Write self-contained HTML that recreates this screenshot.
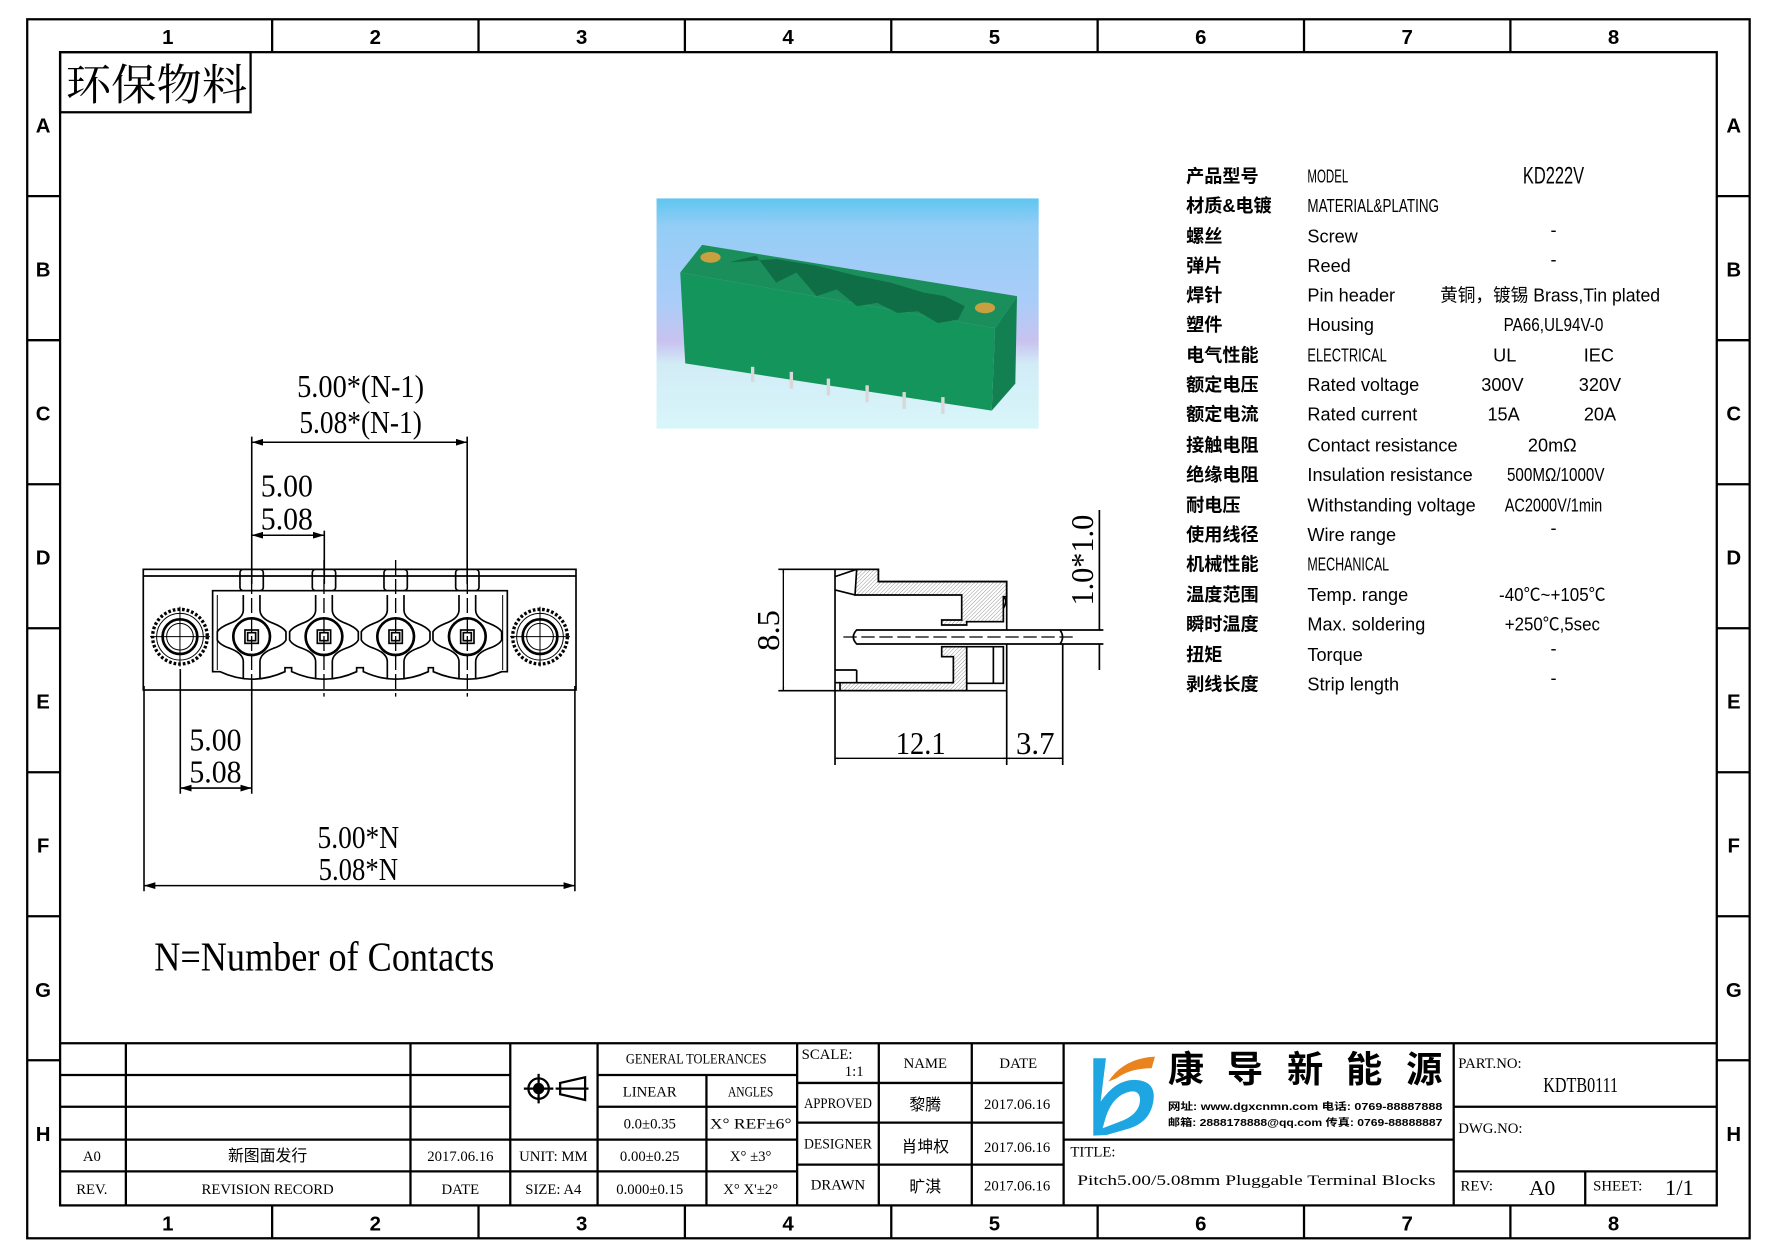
<!DOCTYPE html>
<html><head><meta charset="utf-8"><style>
html,body{margin:0;padding:0;background:#fff;}
svg{display:block;}
text{font-family:"Liberation Sans","Noto Sans CJK SC",sans-serif;fill:#000;}
.s text, text.s{font-family:"Liberation Serif","Noto Serif CJK SC",serif;}
.c{font-family:"Liberation Sans","Noto Sans CJK SC",sans-serif;font-weight:bold;}
</style></head><body>
<svg width="1778" height="1257" viewBox="0 0 1568 1108.5" preserveAspectRatio="none" xmlns="http://www.w3.org/2000/svg">
<defs>
<pattern id="h" patternUnits="userSpaceOnUse" width="8" height="8" patternTransform="rotate(45)"><line x1="0" y1="0" x2="0" y2="8" stroke="#000" stroke-width="1.2"/></pattern>
<linearGradient id="bg" x1="0" y1="0" x2="0" y2="1">
<stop offset="0" stop-color="#5ec6f0"/><stop offset="0.12" stop-color="#94cdf6"/><stop offset="0.45" stop-color="#aacdf8"/><stop offset="0.62" stop-color="#c8c2ef"/><stop offset="0.72" stop-color="#d2ecf6"/><stop offset="1" stop-color="#d8f6fa"/></linearGradient>
<marker id="a" viewBox="0 0 10 6" refX="10" refY="3" markerWidth="10" markerHeight="6" orient="auto-start-reverse" markerUnits="userSpaceOnUse"><path d="M0,0 L10,3 L0,6 Z" fill="#000"/></marker>
</defs>
<rect width="1568" height="1108.5" fill="#fff"/>
<g fill="none" stroke="#000" stroke-width="2">
<rect x="24" y="17" width="1519" height="1075"/>
<rect x="53" y="46" width="1461" height="1017"/>
<path d="M240,17V46M422,17V46M604,17V46M786,17V46M968,17V46M1150,17V46M1332,17V46M240,1063V1092M422,1063V1092M604,1063V1092M786,1063V1092M968,1063V1092M1150,1063V1092M1332,1063V1092"/>
<path d="M24,173H53M24,300H53M24,427H53M24,554H53M24,681H53M24,808H53M24,935H53M1514,173H1543M1514,300H1543M1514,427H1543M1514,554H1543M1514,681H1543M1514,808H1543M1514,935H1543"/>
</g>
<g class="c" font-size="18" text-anchor="middle">
<text x="148" y="39">1</text><text x="331" y="39">2</text><text x="513" y="39">3</text><text x="695" y="39">4</text><text x="877" y="39">5</text><text x="1059" y="39">6</text><text x="1241" y="39">7</text><text x="1423" y="39">8</text>
<text x="148" y="1085">1</text><text x="331" y="1085">2</text><text x="513" y="1085">3</text><text x="695" y="1085">4</text><text x="877" y="1085">5</text><text x="1059" y="1085">6</text><text x="1241" y="1085">7</text><text x="1423" y="1085">8</text>
<text x="38" y="117">A</text><text x="38" y="244">B</text><text x="38" y="371">C</text><text x="38" y="498">D</text><text x="38" y="625">E</text><text x="38" y="752">F</text><text x="38" y="879">G</text><text x="38" y="1006">H</text>
<text x="1529" y="117">A</text><text x="1529" y="244">B</text><text x="1529" y="371">C</text><text x="1529" y="498">D</text><text x="1529" y="625">E</text><text x="1529" y="752">F</text><text x="1529" y="879">G</text><text x="1529" y="1006">H</text>
</g>
<rect x="53" y="46" width="168" height="53" fill="none" stroke="#000" stroke-width="2"/>
<text x="58" y="88" font-size="38" textLength="160" lengthAdjust="spacingAndGlyphs" style="font-family:'Noto Serif CJK SC',serif">环保物料</text>

<rect x="579" y="175" width="337" height="203" fill="url(#bg)"/>
<g transform="translate(577.6,172) scale(0.297)">
<polygon points="75,230 140,148 1075,300 1010,395" fill="#1a8f5c"/>
<polygon points="75,230 1010,395 1000,640 90,500" fill="#14955c"/>
<polygon points="1010,395 1075,300 1070,560 1000,640" fill="#138052"/>
<path d="M220,200 L300,180 L360,260 L420,230 L480,300 L540,280 L600,330 L660,320 L720,350 L780,345 L840,380 L900,370 L920,330 L860,300 L800,290 L700,260 L600,240 L480,210 L360,190 Z" fill="#0f6e46"/>
<ellipse cx="165" cy="185" rx="30" ry="16" fill="#c8a040"/><ellipse cx="980" cy="335" rx="30" ry="16" fill="#c8a040"/>
<g stroke="#d8d8d8" stroke-width="10" fill="none"><path d="M290,510V555"/><path d="M405,525V575"/><path d="M515,545V595"/><path d="M630,565V615"/><path d="M740,585V635"/><path d="M855,600V650"/></g>
</g>

<g font-size="16">
<g style="font-family:'Noto Sans CJK SC',sans-serif" font-weight="bold">
<text x="1046" y="161">产品型号</text><text x="1046" y="187">材质&amp;电镀</text><text x="1046" y="214">螺丝</text><text x="1046" y="240">弹片</text><text x="1046" y="266">焊针</text><text x="1046" y="292">塑件</text><text x="1046" y="319">电气性能</text><text x="1046" y="345">额定电压</text><text x="1046" y="371">额定电流</text><text x="1046" y="398">接触电阻</text><text x="1046" y="424">绝缘电阻</text><text x="1046" y="451">耐电压</text><text x="1046" y="477">使用线径</text><text x="1046" y="503">机械性能</text><text x="1046" y="530">温度范围</text><text x="1046" y="556">瞬时温度</text><text x="1046" y="583">扭矩</text><text x="1046" y="609">剥线长度</text>
</g>
<g>
<text x="1153" y="161" textLength="36" lengthAdjust="spacingAndGlyphs">MODEL</text>
<text x="1153" y="187" textLength="116" lengthAdjust="spacingAndGlyphs">MATERIAL&amp;PLATING</text>
<text x="1153" y="214">Screw</text><text x="1153" y="240">Reed</text><text x="1153" y="266">Pin header</text><text x="1153" y="292">Housing</text>
<text x="1153" y="319" textLength="70" lengthAdjust="spacingAndGlyphs">ELECTRICAL</text>
<text x="1153" y="345">Rated voltage</text><text x="1153" y="371">Rated current</text><text x="1153" y="398">Contact resistance</text><text x="1153" y="424">Insulation resistance</text><text x="1153" y="451">Withstanding voltage</text><text x="1153" y="477">Wire range</text>
<text x="1153" y="503" textLength="72" lengthAdjust="spacingAndGlyphs">MECHANICAL</text>
<text x="1153" y="530">Temp. range</text><text x="1153" y="556">Max. soldering</text><text x="1153" y="583">Torque</text><text x="1153" y="609">Strip length</text>
<g text-anchor="middle">
<text x="1370" y="162" font-size="21" textLength="54" lengthAdjust="spacingAndGlyphs">KD222V</text>
<text x="1370" y="208">-</text><text x="1370" y="234">-</text>
<text x="1370" y="292" textLength="88" lengthAdjust="spacingAndGlyphs">PA66,UL94V-0</text>
<text x="1327" y="319">UL</text><text x="1410" y="319">IEC</text>
<text x="1325" y="345">300V</text><text x="1411" y="345">320V</text>
<text x="1326" y="371">15A</text><text x="1411" y="371">20A</text>
<text x="1369" y="398">20mΩ</text>
<text x="1372" y="424" textLength="86" lengthAdjust="spacingAndGlyphs">500MΩ/1000V</text>
<text x="1370" y="451" textLength="86" lengthAdjust="spacingAndGlyphs">AC2000V/1min</text>
<text x="1370" y="471">-</text>
<text x="1369" y="530" textLength="94" lengthAdjust="spacingAndGlyphs">-40℃~+105℃</text>
<text x="1369" y="556" textLength="84" lengthAdjust="spacingAndGlyphs">+250℃,5sec</text>
<text x="1370" y="577">-</text><text x="1370" y="603">-</text>
</g>
<text x="1270" y="266" textLength="194" lengthAdjust="spacingAndGlyphs">黄铜，镀锡 Brass,Tin plated</text>
</g>
</g>

<g fill="none" stroke="#000" stroke-width="1.4">
<line x1="222" y1="390" x2="412" y2="390" marker-start="url(#a)" marker-end="url(#a)"/>
<line x1="222" y1="385" x2="222" y2="515"/><line x1="412" y1="385" x2="412" y2="515"/>
<line x1="286" y1="468" x2="286" y2="515"/>
<line x1="222" y1="472" x2="286" y2="472" marker-start="url(#a)" marker-end="url(#a)"/>
<line x1="159" y1="590" x2="159" y2="700"/><line x1="222" y1="600" x2="222" y2="700"/>
<line x1="159" y1="695" x2="222" y2="695" marker-start="url(#a)" marker-end="url(#a)"/>
<line x1="127" y1="605" x2="127" y2="786"/><line x1="507" y1="605" x2="507" y2="786"/>
<line x1="127" y1="781" x2="507" y2="781" marker-start="url(#a)" marker-end="url(#a)"/>
</g>
<g class="s" font-size="28" text-anchor="middle">
<text x="318" y="350" textLength="112" lengthAdjust="spacingAndGlyphs">5.00*(N-1)</text>
<text x="318" y="382" textLength="108" lengthAdjust="spacingAndGlyphs">5.08*(N-1)</text>
<text x="253" y="438" textLength="46" lengthAdjust="spacingAndGlyphs">5.00</text>
<text x="253" y="467" textLength="46" lengthAdjust="spacingAndGlyphs">5.08</text>
<text x="190" y="662" textLength="46" lengthAdjust="spacingAndGlyphs">5.00</text>
<text x="190" y="690" textLength="46" lengthAdjust="spacingAndGlyphs">5.08</text>
<text x="316" y="748" textLength="72" lengthAdjust="spacingAndGlyphs">5.00*N</text>
<text x="316" y="776" textLength="70" lengthAdjust="spacingAndGlyphs">5.08*N</text>
</g>
<text class="s" x="136" y="856" font-size="36" textLength="300" lengthAdjust="spacingAndGlyphs">N=Number of Contacts</text>

<g transform="translate(114.6,476.2) scale(0.294)" fill="none" stroke="#000" stroke-width="5">
<rect x="40" y="88" width="1298" height="362"/>
<line x1="40" y1="108" x2="1338" y2="108"/>
<path d="M248,152 H1132 V395 H1115 Q1012,440 910,395 V383 H895 V395 Q797,440 700,395 V383 H680 V395 Q582,440 485,395 V383 H465 V395 Q365,440 270,395 H248 Z"/>
<path d="M262,165 V390 M1118,165 V390" stroke-width="3"/>
<g id="ct">
<rect x="330" y="88" width="70" height="64" rx="10"/>
<path d="M340,165 V210 Q340,235 300,250 Q270,262 262,275 V300 Q270,315 300,325 Q340,340 340,365 V415 M390,165 V210 Q390,235 430,250 Q460,262 468,275 V300 Q460,315 430,325 Q390,340 390,365 V415"/>
<circle cx="365" cy="290" r="55" stroke-width="8"/>
<rect x="345" y="270" width="40" height="40"/><rect x="353" y="278" width="24" height="24"/>
<path d="M365,60 V470" stroke-dasharray="45,12" stroke-width="4"/>
</g>
<use href="#ct" transform="translate(217,0)"/><use href="#ct" transform="translate(432,0)"/><use href="#ct" transform="translate(647,0)"/>
<g id="mh">
<circle cx="150" cy="290" r="82" stroke-dasharray="8,6" stroke-width="10"/>
<circle cx="150" cy="290" r="70" stroke-width="3"/>
<circle cx="150" cy="290" r="52" stroke-width="8"/>
<circle cx="150" cy="290" r="40" stroke-width="3"/>
<path d="M60,290 H240 M150,200 V380" stroke-width="3"/>
</g>
<use href="#mh" transform="translate(1080,0)"/>
</g>

<g transform="translate(652.6,440.9) scale(0.294)" fill="none" stroke="#000" stroke-width="5">
<path d="M350,208 H415 V245 H800 V290 H790 V365 H680 V375 H605 V360 H665 V285 H345 Z" fill="url(#h)"/>
<path d="M300,548 H640 V470 H605 V440 H680 V572 H300 Z" fill="url(#h)"/>
<path d="M285,208 H415 V245 H800 V572 H285 Z"/>
<path d="M285,230 L350,208 M285,270 L345,285 M285,510 H350 M285,548 H300 M350,510 V548 M680,440 H790 V550 H680 M760,440 V550 M790,290 Q805,300 790,325"/>
<path d="M350,390 H960 Q975,411 960,432 H350 Q330,411 350,390 Z" fill="#fff"/>
<line x1="310" y1="411" x2="1000" y2="411" stroke-dasharray="40,14" stroke-width="4"/>
<path d="M115,208 H285 M115,572 H285"/>
<line x1="130" y1="208" x2="130" y2="572" marker-start="url(#a)" marker-end="url(#a)" stroke-width="4"/>
<path d="M285,572 V795 M800,572 V795 M968,432 V795"/>
<line x1="285" y1="775" x2="800" y2="775" marker-start="url(#a)" marker-end="url(#a)" stroke-width="4"/>
<line x1="800" y1="775" x2="968" y2="775" marker-start="url(#a)" marker-end="url(#a)" stroke-width="4"/>
<path d="M960,390 H1090 M960,432 H1090 M1078,30 V390 M1078,432 V510"/>
</g>
<g class="s" font-size="28">
<text x="812" y="665" text-anchor="middle" textLength="44" lengthAdjust="spacingAndGlyphs">12.1</text>
<text x="913" y="665" text-anchor="middle" textLength="34" lengthAdjust="spacingAndGlyphs">3.7</text>
<text transform="translate(687,556) rotate(-90)" text-anchor="middle" textLength="36" lengthAdjust="spacingAndGlyphs">8.5</text>
<text transform="translate(964,494) rotate(-90)" text-anchor="middle" textLength="80" lengthAdjust="spacingAndGlyphs">1.0*1.0</text>
</g>

<g fill="none" stroke="#000" stroke-width="2">
<path d="M53,920 H1514 M53,948 H450 M53,976 H450 M53,1005 H703 M53,1033 H703 M527,948 H703 M527,976 H703"/>
<path d="M111,920 V1063 M362,920 V1063 M450,920 V1063 M527,920 V1063 M623,948 V1063 M703,920 V1063 M775,920 V1063 M857,920 V1063 M938,920 V1063 M1282,920 V1063"/>
<path d="M703,955 H938 M703,990 H938 M703,1027 H938 M938,1005 H1282 M1282,976 H1514 M1282,1033 H1514 M1398,1033 V1063"/>
</g>
<g class="s" font-size="13" text-anchor="middle">
<text x="614" y="938" textLength="124" lengthAdjust="spacingAndGlyphs">GENERAL TOLERANCES</text>
<text x="573" y="967">LINEAR</text><text x="662" y="967" textLength="40" lengthAdjust="spacingAndGlyphs">ANGLES</text>
<text x="573" y="995">0.0±0.35</text><text x="662" y="995" textLength="72" lengthAdjust="spacingAndGlyphs">X° REF±6°</text>
<text x="573" y="1024">0.00±0.25</text><text x="662" y="1024">X° ±3°</text>
<text x="573" y="1053">0.000±0.15</text><text x="662" y="1053">X° X'±2°</text>
<text x="488" y="1024">UNIT: MM</text><text x="488" y="1053">SIZE: A4</text>
<text x="81" y="1024">A0</text><text x="81" y="1053">REV.</text>
<text x="236" y="1053">REVISION RECORD</text>
<text x="406" y="1024">2017.06.16</text><text x="406" y="1053">DATE</text>
<text x="816" y="942">NAME</text><text x="898" y="942">DATE</text>
<text x="739" y="977" textLength="60" lengthAdjust="spacingAndGlyphs">APPROVED</text>
<text x="739" y="1013" textLength="60" lengthAdjust="spacingAndGlyphs">DESIGNER</text>
<text x="739" y="1049">DRAWN</text>
<text x="897" y="978">2017.06.16</text><text x="897" y="1016">2017.06.16</text><text x="897" y="1050">2017.06.16</text>
<text x="1394" y="963" font-size="19" textLength="66" lengthAdjust="spacingAndGlyphs">KDTB0111</text>
<text x="1360" y="1054" font-size="19">A0</text>
<text x="1481" y="1054" font-size="20">1/1</text>
</g>
<g class="s" font-size="13">
<text x="707" y="934">SCALE:</text><text x="745" y="949">1:1</text>
<text x="944" y="1020">TITLE:</text>
<text x="950" y="1045" textLength="316" lengthAdjust="spacingAndGlyphs">Pitch5.00/5.08mm Pluggable Terminal Blocks</text>
<text x="1286" y="942">PART.NO:</text><text x="1286" y="999">DWG.NO:</text>
<text x="1288" y="1050">REV:</text><text x="1405" y="1050">SHEET:</text>
</g>
<g style="font-family:'Noto Sans CJK SC',sans-serif" font-size="14" text-anchor="middle">
<text x="236" y="1024">新图面发行</text>
<text x="816" y="979">黎腾</text><text x="816" y="1016">肖坤权</text><text x="816" y="1051">旷淇</text>
</g>
<g transform="translate(952.4,921.5) scale(0.294)">
<path d="M40,40 H78 L62,170 Q110,100 170,105 Q230,110 220,170 Q210,230 150,250 L80,270 L40,272 Z M68,250 L120,230 Q175,210 180,170 Q182,135 150,140 Q100,150 78,215 Z" fill="#1ea6e2" fill-rule="evenodd"/>
<path d="M85,110 Q130,40 225,35 L215,70 Q150,70 110,100 Z" fill="#e8831e"/>
</g>
<g style="font-family:'Noto Sans CJK SC',sans-serif" font-size="32" font-weight="bold">
<text x="1030" y="954">康</text><text x="1082" y="954">导</text><text x="1135" y="954">新</text><text x="1187" y="954">能</text><text x="1240" y="954">源</text>
</g>
<g style="font-family:'Noto Sans CJK SC',sans-serif" font-size="9" font-weight="bold">
<text x="1030" y="979" textLength="242" lengthAdjust="spacingAndGlyphs">网址: www.dgxcnmn.com  电话: 0769-88887888</text>
<text x="1030" y="993" textLength="242" lengthAdjust="spacingAndGlyphs">邮箱: 2888178888@qq.com 传真: 0769-88888887</text>
</g>
<g fill="none" stroke="#000" stroke-width="2">
<circle cx="475" cy="960" r="9"/><circle cx="475" cy="960" r="4" fill="#000"/>
<path d="M462,960 H488 M475,947 V973 M494,955 L516,950 V970 L494,965 Z M490,960 H519"/>
</g>
</svg>
</body></html>
